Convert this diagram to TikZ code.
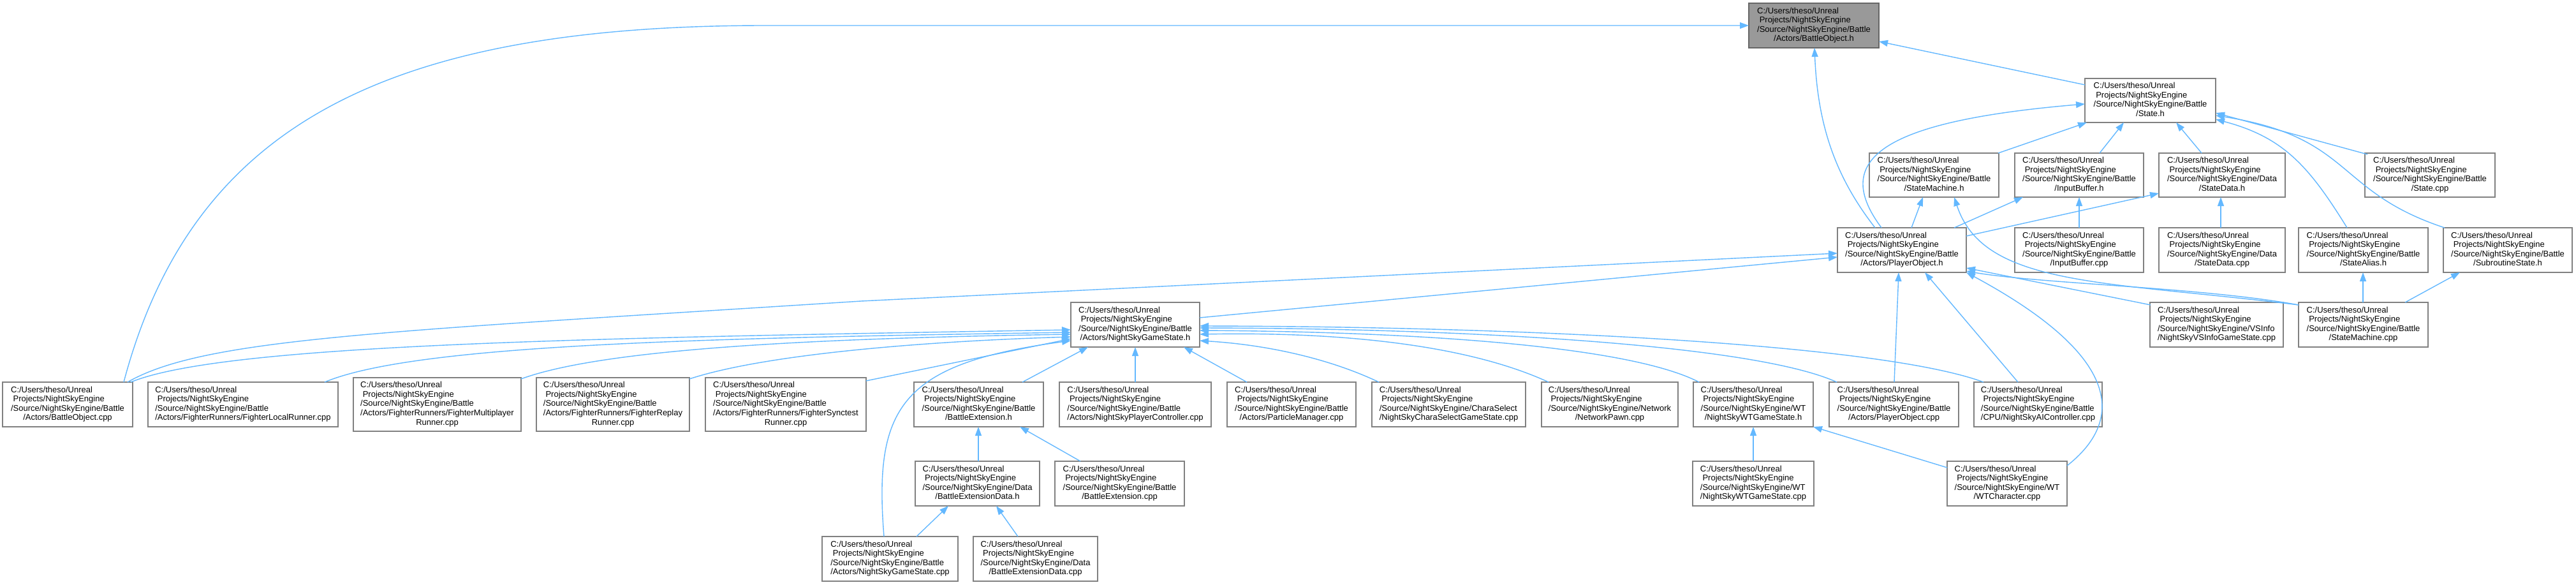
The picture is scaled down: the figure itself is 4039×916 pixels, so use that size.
\documentclass[tikz,border=0pt]{standalone}
\usepackage{fontspec}
\setmainfont{Liberation Sans}
\usetikzlibrary{arrows.meta,calc}
\definecolor{edgeblue}{HTML}{63B8FF}
\definecolor{boxgray}{HTML}{808080}
\definecolor{rootfill}{HTML}{999999}
\definecolor{rootdraw}{HTML}{666666}
\newcommand\dfont{\fontsize{13}{14.6}\selectfont}
\newcommand\lab[2]{\begin{tabular}{@{}l@{}}C:/Users/theso/Unreal\\\ Projects/NightSkyEngine\\/Source/NightSkyEngine/#1\\\multicolumn{1}{@{}c@{}}{#2}\end{tabular}}
\newcommand\labr[1]{\begin{tabular}{@{}l@{}}C:/Users/theso/Unreal\\\ Projects/NightSkyEngine\\/Source/NightSkyEngine/Battle\\/Actors/FighterRunners/Fighter#1\\\multicolumn{1}{@{}c@{}}{Runner.cpp}\end{tabular}}
\newcommand\dnode[7][]{\node[dbox,#1,minimum width={(#5-#3)*1pt},minimum height={(#6-#4)*1pt}] (#2) at ({(#3+#5)/2},{(#4+#6)/2}) {#7};}
\tikzset{
  dbox/.style={draw=boxgray, line width=1.5pt, fill=white, inner sep=0pt, outer sep=0pt, font=\dfont},
  rootbox/.style={fill=rootfill, draw=rootdraw},
  edge/.style={draw=edgeblue, line width=1.4pt, -{Triangle[length=14pt,width=10pt]}}
}
\begin{document}
\begin{tikzpicture}[x=1pt,y=-1pt]
\path[fill=white,use as bounding box] (0,0) rectangle (4039,916);
% nodes
\dnode[rootbox]{boh}{2742}{5}{2946}{75}{\lab{Battle}{/Actors/BattleObject.h}}
\dnode{stateh}{3269}{123}{3474}{192}{\lab{Battle}{/State.h}}
\dnode{smh}{2931}{240}{3134}{309}{\lab{Battle}{/StateMachine.h}}
\dnode{ibh}{3159}{240}{3361}{309}{\lab{Battle}{/InputBuffer.h}}
\dnode{sdh}{3385}{240}{3583}{309}{\lab{Data}{/StateData.h}}
\dnode{scpp}{3708}{240}{3912}{309}{\lab{Battle}{/State.cpp}}
\dnode{poh}{2881}{357}{3083}{427}{\lab{Battle}{/Actors/PlayerObject.h}}
\dnode{ibcpp}{3159}{357}{3361}{427}{\lab{Battle}{/InputBuffer.cpp}}
\dnode{sdcpp}{3385}{357}{3583}{427}{\lab{Data}{/StateData.cpp}}
\dnode{sah}{3604}{357}{3807}{427}{\lab{Battle}{/StateAlias.h}}
\dnode{ssh}{3831}{357}{4033}{427}{\lab{Battle}{/SubroutineState.h}}
\dnode{nsgsh}{1679}{474}{1881}{544}{\lab{Battle}{/Actors/NightSkyGameState.h}}
\dnode{vsinfo}{3371}{474}{3580}{544}{\lab{VSInfo}{/NightSkyVSInfoGameState.cpp}}
\dnode{smcpp}{3604}{474}{3807}{544}{\lab{Battle}{/StateMachine.cpp}}
\dnode{bocpp}{4}{599}{208}{669}{\lab{Battle}{/Actors/BattleObject.cpp}}
\dnode{flr}{232}{599}{530}{669}{\lab{Battle}{/Actors/FighterRunners/FighterLocalRunner.cpp}}
\dnode{fmr}{554}{592}{817}{676}{\labr{Multiplayer}}
\dnode{frr}{841}{592}{1081}{676}{\labr{Replay}}
\dnode{fsr}{1106}{592}{1358}{676}{\labr{Synctest}}
\dnode{beh}{1433}{599}{1636}{669}{\lab{Battle}{/BattleExtension.h}}
\dnode{nspc}{1661}{599}{1899}{669}{\lab{Battle}{/Actors/NightSkyPlayerController.cpp}}
\dnode{pm}{1924}{599}{2126}{669}{\lab{Battle}{/Actors/ParticleManager.cpp}}
\dnode{csgs}{2151}{599}{2392}{669}{\lab{CharaSelect}{/NightSkyCharaSelectGameState.cpp}}
\dnode{np}{2417}{599}{2631}{669}{\lab{Network}{/NetworkPawn.cpp}}
\dnode{wtgsh}{2655}{599}{2843}{669}{\lab{WT}{/NightSkyWTGameState.h}}
\dnode{pocpp}{2868}{599}{3071}{669}{\lab{Battle}{/Actors/PlayerObject.cpp}}
\dnode{aic}{3095}{599}{3296}{669}{\lab{Battle}{/CPU/NightSkyAIController.cpp}}
\dnode{bedh}{1435}{723}{1630}{793}{\lab{Data}{/BattleExtensionData.h}}
\dnode{becpp}{1654}{723}{1857}{793}{\lab{Battle}{/BattleExtension.cpp}}
\dnode{wtgscpp}{2654}{723}{2844}{793}{\lab{WT}{/NightSkyWTGameState.cpp}}
\dnode{wtc}{3053}{723}{3241}{793}{\lab{WT}{/WTCharacter.cpp}}
\dnode{nsgscpp}{1289}{841}{1502}{911}{\lab{Battle}{/Actors/NightSkyGameState.cpp}}
\dnode{bedcpp}{1526}{841}{1721}{911}{\lab{Data}{/BattleExtensionData.cpp}}
% edges
\draw[edge] ($(bocpp.north west)+(190,0)$) .. controls (300,200) and (600,40) .. (1200,40) -- ($(boh.north west)+(0,35)$);
\draw[edge] ($(poh.north west)+(59,0)$) .. controls (2880,280) and (2850,200) .. ($(boh.north west)+(103,70)$);
\draw[edge] ($(stateh.north west)+(0,10)$) -- ($(boh.north west)+(204,60)$);
\draw[edge] ($(poh.north west)+(69,0)$) .. controls (2870,250) and (2950,190) .. ($(stateh.north west)+(0,40)$);
\draw[edge] ($(smh.north west)+(202,0)$) -- ($(stateh.north west)+(3,69)$);
\draw[edge] ($(ibh.north west)+(133,0)$) -- ($(stateh.north west)+(61,69)$);
\draw[edge] ($(sdh.north west)+(67,0)$) -- ($(stateh.north west)+(143,69)$);
\draw[edge] ($(scpp.north west)+(4,2)$) -- ($(stateh.north west)+(205,54)$);
\draw[edge] ($(sah.north west)+(76,0)$) .. controls (3620,260) and (3580,215) .. ($(stateh.north west)+(205,64)$);
\draw[edge] ($(ssh.north west)+(2,0)$) .. controls (3660,300) and (3690,215) .. ($(stateh.north west)+(205,58)$);
\draw[edge] ($(poh.north west)+(116,0)$) -- ($(smh.north west)+(84,69)$);
\draw[edge] ($(poh.north west)+(183,0)$) -- ($(ibh.north west)+(13,69)$);
\draw[edge] ($(poh.north west)+(202,13)$) -- ($(sdh.north west)+(0,63)$);
\draw[edge] ($(ibcpp.north west)+(101,0)$) -- ($(ibh.north west)+(101,69)$);
\draw[edge] ($(smcpp.north west)+(0,4)$) .. controls (3300,440) and (3110,450) .. ($(smh.north west)+(133,69)$);
\draw[edge] ($(sdcpp.north west)+(97,0)$) -- ($(sdh.north west)+(97,69)$);
\draw[edge] ($(smcpp.north west)+(101,0)$) -- ($(sah.north west)+(101,70)$);
\draw[edge] ($(smcpp.north west)+(167,0)$) -- ($(ssh.north west)+(26,70)$);
\draw[edge] ($(vsinfo.north west)+(1,4)$) -- ($(poh.north west)+(202,63)$);
\draw[edge] ($(smcpp.north west)+(0,4)$) .. controls (3450,450) and (3200,445) .. ($(poh.north west)+(202,68)$);
\draw[edge] ($(nsgsh.north west)+(202,24)$) -- ($(poh.north west)+(0,46)$);
\draw[edge] ($(bocpp.north west)+(196,0)$) .. controls (320,530) and (600,520) .. (1350,472) -- ($(poh.north west)+(0,40)$);
\draw[edge] ($(bocpp.north west)+(201,0)$) .. controls (350,540) and (900,530) .. ($(nsgsh.north west)+(0,43)$);
\draw[edge] ($(flr.north west)+(277,0)$) .. controls (650,540) and (1100,530) .. ($(nsgsh.north west)+(0,47)$);
\draw[edge] ($(fmr.north west)+(263,2)$) .. controls (950,545) and (1300,530) .. ($(nsgsh.north west)+(0,50)$);
\draw[edge] ($(frr.north west)+(240,2)$) .. controls (1200,555) and (1450,535) .. ($(nsgsh.north west)+(0,54)$);
\draw[edge] ($(fsr.north west)+(252,5)$) -- ($(nsgsh.north west)+(0,57)$);
\draw[edge] ($(nsgscpp.north west)+(97,0)$) .. controls (1370,640) and (1410,570) .. ($(nsgsh.north west)+(0,60)$);
\draw[edge] ($(beh.north west)+(170,0)$) -- ($(nsgsh.north west)+(27,70)$);
\draw[edge] ($(nspc.north west)+(119,0)$) -- ($(nsgsh.north west)+(101,70)$);
\draw[edge] ($(pm.north west)+(31,0)$) -- ($(nsgsh.north west)+(177,70)$);
\draw[edge] ($(csgs.north west)+(11,0)$) .. controls (2080,560) and (1980,540) .. ($(nsgsh.north west)+(202,60)$);
\draw[edge] ($(np.north west)+(11,0)$) .. controls (2300,540) and (2100,520) .. ($(nsgsh.north west)+(202,50)$);
\draw[edge] ($(wtgsh.north west)+(9,0)$) .. controls (2550,540) and (2200,520) .. ($(nsgsh.north west)+(202,44)$);
\draw[edge] ($(pocpp.north west)+(12,0)$) .. controls (2750,540) and (2300,515) .. ($(nsgsh.north west)+(202,40)$);
\draw[edge] ($(aic.north west)+(15,0)$) .. controls (2950,540) and (2400,512) .. ($(nsgsh.north west)+(202,37)$);
\draw[edge] ($(pocpp.north west)+(102,0)$) -- ($(poh.north west)+(96,70)$);
\draw[edge] ($(aic.north west)+(69,0)$) -- ($(poh.north west)+(137,70)$);
\draw[edge] ($(wtc.north west)+(188,7)$) .. controls (3330,660) and (3330,560) .. ($(poh.north west)+(202,70)$);
\draw[edge] ($(wtc.north west)+(0,10)$) -- ($(wtgsh.north west)+(188,70)$);
\draw[edge] ($(wtgscpp.north west)+(95,0)$) -- ($(wtgsh.north west)+(94,70)$);
\draw[edge] ($(bedh.north west)+(99,0)$) -- ($(beh.north west)+(101,70)$);
\draw[edge] ($(becpp.north west)+(40,0)$) -- ($(beh.north west)+(166,70)$);
\draw[edge] ($(nsgscpp.north west)+(148,0)$) -- ($(bedh.north west)+(52,70)$);
\draw[edge] ($(bedcpp.north west)+(70,0)$) -- ($(bedh.north west)+(127,70)$);
\end{tikzpicture}
\end{document}
